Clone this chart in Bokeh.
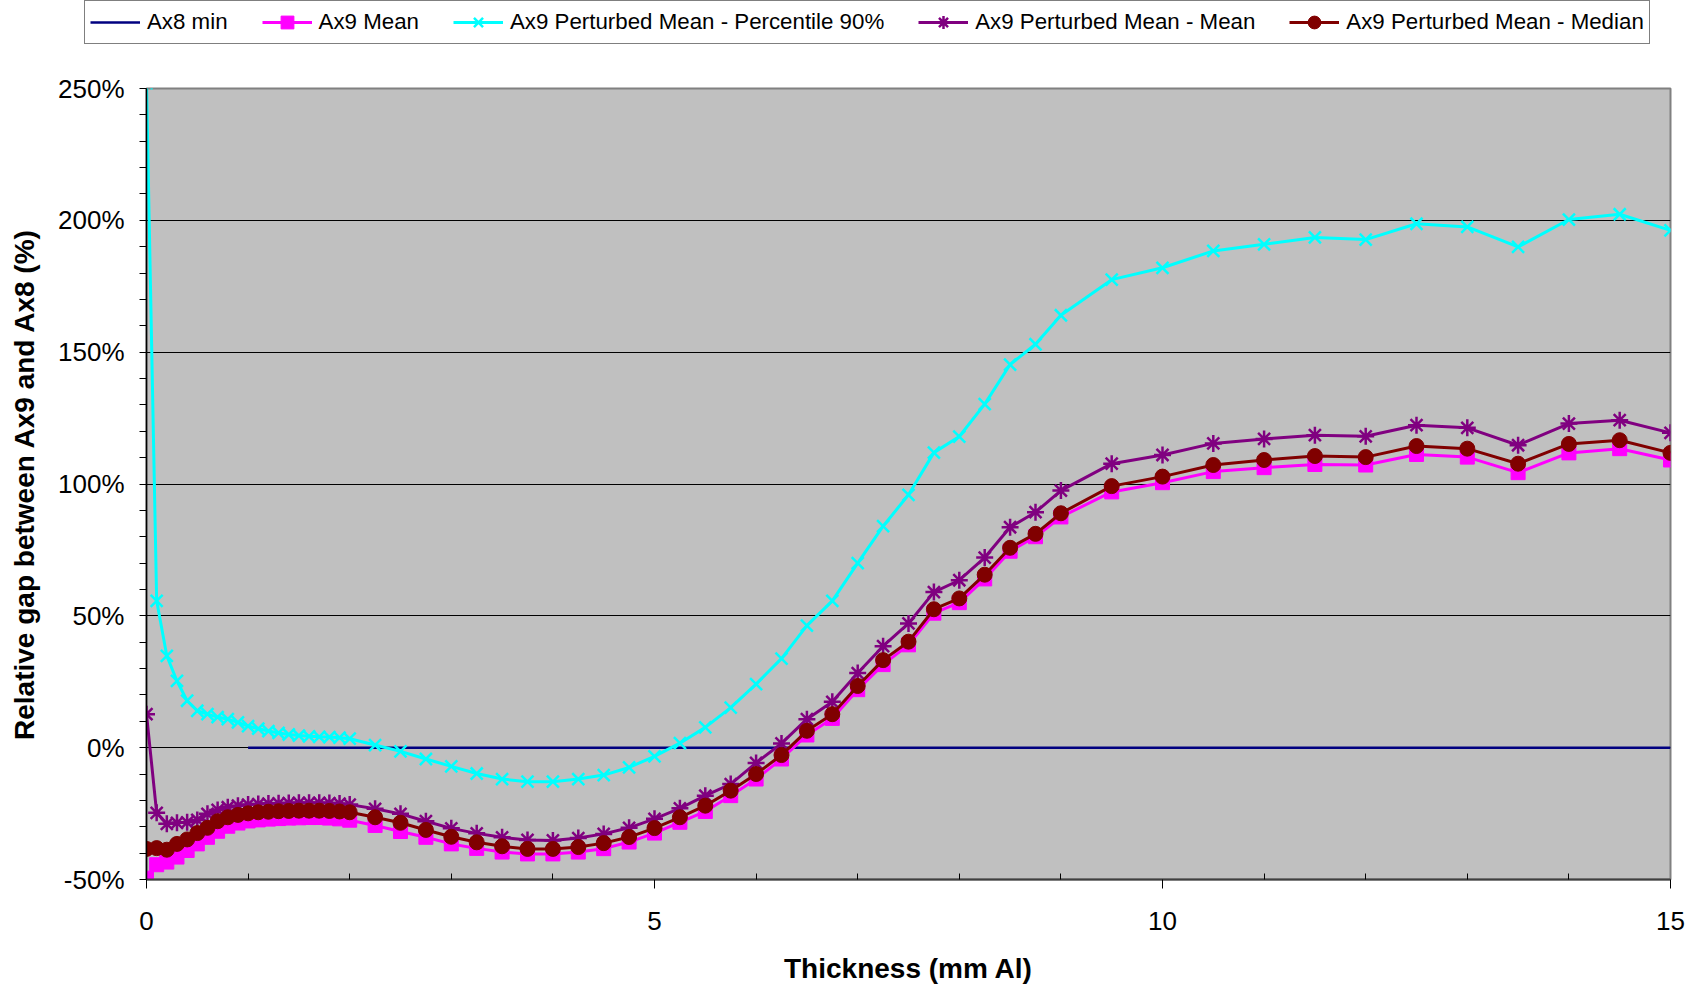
from bokeh.plotting import figure
from bokeh.models import FixedTicker, PrintfTickFormatter, Legend, LegendItem, Range1d
from bokeh.embed import file_html
from bokeh.resources import INLINE

thickness = [0.0, 0.1, 0.2, 0.3, 0.4, 0.5, 0.6, 0.7, 0.8, 0.9, 1.0,
             1.1, 1.2, 1.3, 1.4, 1.5, 1.6, 1.7, 1.8, 1.9, 2.0,
             2.25, 2.5, 2.75, 3.0, 3.25, 3.5, 3.75, 4.0, 4.25, 4.5, 4.75,
             5.0, 5.25, 5.5, 5.75, 6.0, 6.25, 6.5, 6.75, 7.0, 7.25, 7.5, 7.75,
             8.0, 8.25, 8.5, 8.75, 9.0,
             9.5, 10.0, 10.5, 11.0, 11.5, 12.0, 12.5, 13.0, 13.5, 14.0, 14.5, 15.0]

ax9_mean = [-49.5, -44.4, -43.4, -41.5, -39.0, -36.5, -34.0, -31.7, -29.8, -28.6, -27.8,
            -27.4, -27.1, -26.9, -26.7, -26.6, -26.5, -26.5, -26.7, -27.0, -27.5,
            -29.5, -31.8, -34.0, -36.5, -38.2, -39.6, -40.3, -40.3, -39.6, -38.3, -35.8,
            -32.4, -28.3, -24.2, -18.2, -11.9, -4.3, 4.8, 11.1, 22.0, 31.5, 39.0, 51.0,
            55.0, 64.0, 74.5, 80.0, 87.5,
            97.0, 100.5, 104.7, 106.2, 107.4, 107.2, 111.2, 110.2, 104.3, 111.8, 113.4, 109.1]

pm_p90 = [252.0, 55.7, 34.8, 25.3, 17.8, 14.0, 12.7, 11.6, 10.8, 9.6, 8.2,
          7.2, 6.3, 5.6, 5.0, 4.6, 4.3, 4.1, 4.0, 3.8, 3.4,
          1.0, -1.4, -4.3, -7.1, -9.8, -11.9, -12.9, -12.9, -11.9, -10.4, -7.5,
          -3.3, 1.7, 7.7, 15.2, 24.1, 33.8, 46.3, 55.7, 70.0, 84.0, 95.9, 111.9,
          118.0, 130.3, 145.3, 153.0, 164.0,
          177.5, 182.0, 188.4, 190.9, 193.5, 192.7, 198.7, 197.5, 189.9, 200.3, 202.3, 196.2]

pm_mean = [12.7, -24.7, -28.9, -28.5, -28.3, -27.4, -25.1, -23.6, -22.6, -22.0, -21.6,
           -21.4, -21.2, -21.1, -21.0, -20.9, -20.9, -20.9, -21.0, -21.2, -21.6,
           -23.2, -25.1, -27.9, -30.6, -32.5, -34.0, -35.0, -35.2, -34.3, -32.7, -30.4,
           -27.0, -23.0, -18.2, -13.8, -5.8, 1.6, 10.8, 17.4, 28.3, 38.5, 47.1, 59.0,
           63.5, 72.1, 83.6, 89.3, 97.5,
           107.7, 111.0, 115.4, 117.1, 118.5, 118.1, 122.3, 121.3, 114.7, 122.9, 124.2, 119.4]

pm_median = [-38.4, -38.1, -38.7, -36.5, -34.8, -32.4, -30.4, -27.9, -26.4, -25.5, -24.9,
             -24.5, -24.3, -24.1, -24.0, -23.9, -23.9, -23.9, -24.0, -24.2, -24.5,
             -26.4, -28.5, -31.2, -33.8, -35.9, -37.4, -38.4, -38.4, -37.7, -36.2, -33.9,
             -30.5, -26.4, -22.0, -16.3, -10.0, -2.8, 6.4, 12.7, 23.4, 33.2, 40.2, 52.5,
             56.6, 65.6, 75.8, 81.1, 88.9,
             99.2, 102.8, 107.2, 109.1, 110.6, 110.2, 114.4, 113.4, 107.7, 115.2, 116.6, 111.8]

ax8_x = [1.0, 1.1, 1.2, 1.3, 1.4, 1.5, 1.6, 1.7, 1.8, 1.9, 2.0,
         2.25, 2.5, 2.75, 3.0, 3.25, 3.5, 3.75, 4.0, 4.25, 4.5, 4.75,
         5.0, 5.25, 5.5, 5.75, 6.0, 6.25, 6.5, 6.75, 7.0, 7.25, 7.5, 7.75,
         8.0, 8.25, 8.5, 8.75, 9.0,
         9.5, 10.0, 10.5, 11.0, 11.5, 12.0, 12.5, 13.0, 13.5, 14.0, 14.5, 15.0]
ax8_min = [0.0] * len(ax8_x)

series_names = ["Ax8 min", "Ax9 Mean", "Ax9 Perturbed Mean - Percentile 90%",
                "Ax9 Perturbed Mean - Mean", "Ax9 Perturbed Mean - Median"]

x_ticks = [0, 5, 10, 15]
x_minor = [1, 2, 3, 4, 6, 7, 8, 9, 11, 12, 13, 14]
y_ticks = [-50, 0, 50, 100, 150, 200, 250]
y_minor = [-40, -30, -20, -10, 10, 20, 30, 40, 60, 70, 80, 90, 110, 120, 130, 140,
           160, 170, 180, 190, 210, 220, 230, 240]

FONT = "Liberation Sans"
NAVY = "#000080"
MAGENTA = "#FF00FF"
CYAN = "#00FFFF"
PURPLE = "#800080"
DARKRED = "#800000"

LEG_H = 46
MAIN_H = 940

# ---------------- main chart ----------------
p = figure(width=1699, height=MAIN_H, output_backend="svg", toolbar_location=None,
           x_range=Range1d(0, 15), y_range=Range1d(-50, 250),
           min_border_left=146, min_border_right=29, min_border_top=88 - LEG_H,
           min_border_bottom=MAIN_H - (881 - LEG_H))

p.background_fill_color = "#C0C0C0"
p.border_fill_color = "white"
p.outline_line_color = "#808080"
p.outline_line_width = 2

p.xgrid.visible = False
p.ygrid.ticker = FixedTicker(ticks=y_ticks)
p.ygrid.grid_line_color = "black"
p.ygrid.grid_line_width = 1

xa = p.xaxis[0]
xa.ticker = FixedTicker(ticks=x_ticks, minor_ticks=x_minor)
xa.major_tick_in = 0
xa.major_tick_out = 9
xa.minor_tick_in = 6
xa.minor_tick_out = 0
xa.axis_line_color = "#404040"
xa.axis_line_width = 2
xa.major_tick_line_color = "black"
xa.minor_tick_line_color = "black"
xa.major_label_text_font = FONT
xa.major_label_text_font_size = "26px"
xa.major_label_text_color = "black"
xa.major_label_standoff = 23
xa.axis_label = "Thickness (mm Al)"
xa.axis_label_text_font = FONT
xa.axis_label_text_font_size = "28px"
xa.axis_label_text_font_style = "bold"
xa.axis_label_text_color = "black"
xa.axis_label_standoff = 20

ya = p.yaxis[0]
ya.ticker = FixedTicker(ticks=y_ticks, minor_ticks=y_minor)
ya.formatter = PrintfTickFormatter(format="%d%%")
ya.major_tick_in = 0
ya.major_tick_out = 7
ya.minor_tick_in = 0
ya.minor_tick_out = 7
ya.axis_line_color = "black"
ya.axis_line_width = 1.5
ya.major_tick_line_color = "black"
ya.minor_tick_line_color = "black"
ya.major_label_text_font = FONT
ya.major_label_text_font_size = "26px"
ya.major_label_text_color = "black"
ya.major_label_standoff = 15
ya.axis_label = "Relative gap between Ax9 and Ax8 (%)"
ya.axis_label_text_font = FONT
ya.axis_label_text_font_size = "28px"
ya.axis_label_text_font_style = "bold"
ya.axis_label_text_color = "black"
ya.axis_label_standoff = 15


def draw_series(fig, leg_scale=False):
    r = []
    r.append([fig.line(ax8_x, ax8_min, line_color=NAVY, line_width=2.5)])
    a = fig.line(thickness, ax9_mean, line_color=MAGENTA, line_width=3)
    b = fig.scatter(thickness, ax9_mean, marker="square", size=14,
                    fill_color=MAGENTA, line_color=MAGENTA)
    r.append([a, b])
    a = fig.line(thickness, pm_p90, line_color=CYAN, line_width=3)
    b = fig.scatter(thickness, pm_p90, marker="x", size=17, line_color=CYAN, line_width=2.5)
    r.append([a, b])
    a = fig.line(thickness, pm_mean, line_color=PURPLE, line_width=3)
    b = fig.scatter(thickness, pm_mean, marker="asterisk", size=17, line_color=PURPLE,
                    line_width=2.5)
    r.append([a, b])
    a = fig.line(thickness, pm_median, line_color=DARKRED, line_width=3)
    b = fig.scatter(thickness, pm_median, marker="circle", size=15,
                    fill_color=DARKRED, line_color=DARKRED)
    r.append([a, b])
    return r


draw_series(p)

# ---------------- legend strip: same series, ranges kept away from the data ----------------
q = figure(width=1699, height=LEG_H, output_backend="svg", toolbar_location=None,
           x_range=Range1d(-30, -20), y_range=Range1d(-300, -280),
           x_axis_type=None, y_axis_type=None, min_border=0)
q.outline_line_color = None
q.grid.visible = False
q.background_fill_color = "white"
q.border_fill_color = "white"

groups = draw_series(q, leg_scale=True)
items = [LegendItem(label=name, renderers=rs) for name, rs in zip(series_names, groups)]
legend = Legend(items=items, orientation="horizontal", location=(84, 2),
                border_line_color="black", border_line_width=1.5,
                background_fill_color="white", background_fill_alpha=1.0,
                label_text_font=FONT, label_text_font_size="22.3px", label_text_color="black",
                glyph_width=50, glyph_height=32, label_standoff=7, spacing=34,
                padding=5, margin=0)
q.add_layout(legend)

open("out.html", "w").write(file_html([q, p], INLINE))
